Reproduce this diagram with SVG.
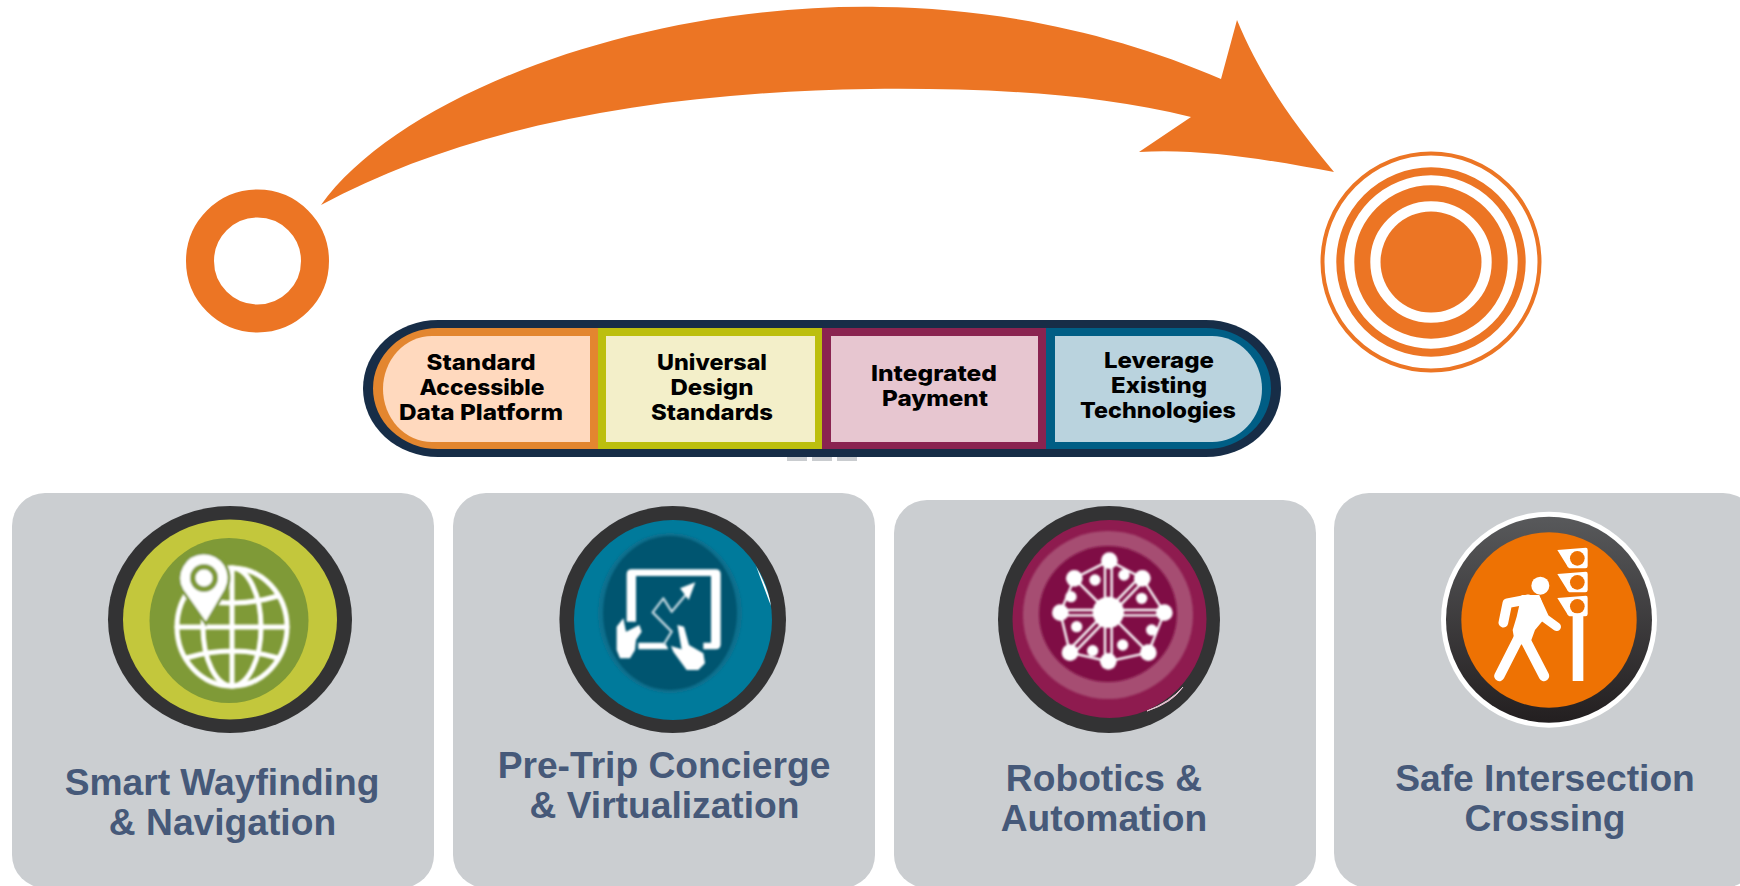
<svg xmlns="http://www.w3.org/2000/svg" width="1740" height="886" viewBox="0 0 1740 886">
<style>
.or{fill:#EC7524}
.card{fill:#CBCED1}
.lbl{font-family:"Liberation Sans",Arial,sans-serif;font-weight:700;font-size:37.200px;fill:#465979;text-anchor:middle}
.pt{font-family:Inter,"Liberation Sans",sans-serif;font-weight:800;font-size:22px;fill:#000;text-anchor:middle}
.dark{fill:#333334}
.w{fill:#fff}
.ws{fill:none;stroke:#fff;stroke-linecap:round;stroke-linejoin:round}
</style>
<defs>
<filter id="soft" x="-10%" y="-10%" width="120%" height="120%"><feGaussianBlur stdDeviation="0.8"/></filter>
<filter id="soft3" x="-10%" y="-10%" width="120%" height="120%"><feGaussianBlur stdDeviation="3"/></filter>
<linearGradient id="rim" x1="0" y1="0" x2="0" y2="1"><stop offset="0" stop-color="#58595B"/><stop offset="1" stop-color="#231F20"/></linearGradient>
<g id="tl"><path class="w" d="M412,180L498,173Q503,173 503,180V228Q503,235 496,235H452Q444,235 440,225Z"/><circle cx="472" cy="205" r="22" fill="#EE7203"/></g>
</defs>
<rect width="1740" height="886" fill="#fff"/>

<g id="connectors">
<path id="arrow" class="or" d="M321,205C400,95 640,3 880,7C1000,8 1120,35 1221,79L1237,20C1262,80 1295,125 1334,172C1270,160 1200,148 1139,152L1191,117C1090,92 980,88 870,89C660,92 470,125 321,205Z"/>
</g>

<g id="start"><circle cx="257.500" cy="261" r="57.500" fill="none" stroke="#EC7524" stroke-width="28"/></g>

<g id="target" fill="none" stroke="#EC7524">
<circle cx="1431" cy="262" r="108.500" stroke-width="4"/>
<circle cx="1431" cy="262" r="90.700" stroke-width="8"/>
<circle cx="1431" cy="262" r="68.700" stroke-width="16"/>
<circle cx="1431" cy="262" r="50.500" fill="#EC7524" stroke="none"/>
</g>

<g id="pill">
<rect x="787" y="456" width="20" height="5" fill="#C9CCCF"/><rect x="812" y="456" width="20" height="5" fill="#C9CCCF"/><rect x="837" y="456" width="20" height="5" fill="#C9CCCF"/>
<rect x="363" y="320" width="918" height="137" rx="75" ry="68.500" fill="#172D47"/>
<g id="seg1">
<path d="M598,328H438A65,60.500 0 0 0 438,449H598Z" fill="#E3862F"/>
<path d="M590,336H432A49,53 0 0 0 432,442H590Z" fill="#FFD9BE"/>
<text class="pt" x="481" y="370" textLength="109" lengthAdjust="spacingAndGlyphs">Standard</text>
<text class="pt" x="482" y="395" textLength="125" lengthAdjust="spacingAndGlyphs">Accessible</text>
<text class="pt" x="481" y="420" textLength="164" lengthAdjust="spacingAndGlyphs">Data Platform</text>
</g>
<g id="seg2">
<rect x="598" y="328" width="224" height="121" fill="#BCBF0E"/>
<rect x="606" y="336" width="209" height="106" fill="#F3EFC9"/>
<text class="pt" x="712" y="370" textLength="110" lengthAdjust="spacingAndGlyphs">Universal</text>
<text class="pt" x="712" y="395" textLength="83" lengthAdjust="spacingAndGlyphs">Design</text>
<text class="pt" x="712" y="420" textLength="122" lengthAdjust="spacingAndGlyphs">Standards</text>
</g>
<g id="seg3">
<rect x="822" y="328" width="224" height="121" fill="#8A2350"/>
<rect x="831" y="336" width="207" height="106" fill="#E7C6D0"/>
<text class="pt" x="934" y="381" textLength="126" lengthAdjust="spacingAndGlyphs">Integrated</text>
<text class="pt" x="935" y="406" textLength="106" lengthAdjust="spacingAndGlyphs">Payment</text>
</g>
<g id="seg4">
<path d="M1046,328H1206A65,60.500 0 0 1 1206,449H1046Z" fill="#005E85"/>
<path d="M1055,336H1212A50,53 0 0 1 1212,442H1055Z" fill="#BAD3DE"/>
<text class="pt" x="1159" y="368" textLength="110" lengthAdjust="spacingAndGlyphs">Leverage</text>
<text class="pt" x="1159" y="393" textLength="96" lengthAdjust="spacingAndGlyphs">Existing</text>
<text class="pt" x="1158" y="418" textLength="156" lengthAdjust="spacingAndGlyphs">Technologies</text>
</g>
</g>

<g id="card1">
<rect class="card" x="12" y="493" width="422" height="395" rx="33"/>
<ellipse class="dark" cx="230" cy="619.500" rx="122" ry="113.500"/>
<ellipse cx="230" cy="619.500" rx="107" ry="100" fill="#C3C73C"/>
<ellipse cx="229" cy="620.500" rx="79.500" ry="82.500" fill="#7F9A37"/>
<g filter="url(#soft)">
<g class="ws" stroke-width="5">
<ellipse cx="232" cy="627" rx="55" ry="59"/>
<ellipse cx="232" cy="627" rx="29" ry="59"/>
<path d="M232,568V686M177,627H287M186,596Q232,610 278,596M186,658Q232,644 278,658"/>
</g>
<path d="M203,553A25,25 0 0 1 226,590L206,624L182,590A25,25 0 0 1 203,553Z" fill="#fff" stroke="#7F9A37" stroke-width="3"/>
<circle cx="204" cy="578" r="14" fill="#7F9A37"/>
<circle cx="204" cy="578" r="8.500" fill="#fff"/>
</g>
<text class="lbl" x="222" y="795">Smart Wayfinding</text>
<text class="lbl" x="222.500" y="835">&amp; Navigation</text>
</g>

<g id="card2">
<rect class="card" x="453" y="493" width="422" height="395" rx="33"/>
<ellipse class="dark" cx="672.700" cy="619.500" rx="113.300" ry="113.500"/>
<ellipse cx="673" cy="620" rx="99" ry="100" fill="#007A9B"/>
<path d="M756,566Q769,590 771,606Q763,585 756,566Z" fill="#fff"/>
<ellipse cx="670" cy="613" rx="72" ry="80" fill="#0A6F8E" filter="url(#soft)"/>
<ellipse cx="670" cy="613" rx="67" ry="77" fill="#00556F" filter="url(#soft)"/>
<g transform="translate(540,490) scale(.33333)" filter="url(#soft3)">
<path class="w" fill-rule="evenodd" d="M275,238H527Q542,238 542,253V463Q542,478 527,478H490V458H513V258H288V395H260V253Q260,238 275,238Z"/>
<path class="w" d="M295,458H375L385,478H295Z"/>
<path class="w" d="M230,410L250,385L258,425L298,405L305,425L288,450L285,480L270,505L240,505L230,480Z"/>
<path class="w" d="M412,405L432,410L447,465L490,490L495,520L475,540L440,540L400,485L393,468L425,478Z"/>
<path class="ws" style="stroke:#C3D8E0" stroke-width="7" d="M372,462L395,425L338,367L370,325L395,365L445,305"/>
<path class="w" d="M466,277L420,295L446,330Z"/>
</g>
<text class="lbl" x="664" y="778">Pre-Trip Concierge</text>
<text class="lbl" x="664.500" y="818">&amp; Virtualization</text>
</g>

<g id="card3">
<rect class="card" x="894" y="500" width="422" height="388" rx="33"/>
<ellipse class="dark" cx="1109" cy="619.500" rx="111" ry="113.500"/>
<ellipse cx="1109.500" cy="619" rx="97" ry="99" fill="#8E1B4F"/>
<ellipse cx="1108" cy="615" rx="85" ry="84" fill="#A64D72" filter="url(#soft)"/>
<ellipse cx="1108" cy="614" rx="69" ry="68" fill="#7F0F45" filter="url(#soft)"/>
<path d="M1147,711Q1170,702 1183,687Q1172,703 1147,711Z" fill="#E6C3D2" stroke="#E6C3D2" stroke-width="1"/>
<g transform="translate(980,490) scale(.33333)" filter="url(#soft3)">
<g class="ws">
<path stroke-width="7" d="M241,368L283,265L388,212L487,265L553,368L505,488L385,514L270,488Z"/>
<path stroke-width="7" d="M375,212V514M395,212V514M241,360H553M241,376H553M277,259L511,494M289,271L499,482M493,271L277,494M481,259L265,482"/>
</g>
<circle class="w" cx="385" cy="367" r="47"/>
<g class="w">
<circle cx="388" cy="212" r="25"/><circle cx="283" cy="265" r="25"/><circle cx="487" cy="265" r="25"/><circle cx="241" cy="368" r="25"/><circle cx="553" cy="368" r="25"/><circle cx="270" cy="488" r="25"/><circle cx="505" cy="488" r="25"/><circle cx="385" cy="514" r="25"/>
<circle cx="345" cy="270" r="17"/><circle cx="432" cy="255" r="17"/><circle cx="273" cy="320" r="17"/><circle cx="485" cy="325" r="17"/><circle cx="290" cy="410" r="17"/><circle cx="515" cy="420" r="17"/><circle cx="338" cy="482" r="17"/><circle cx="428" cy="465" r="17"/>
</g>
</g>
<text class="lbl" x="1104" y="791">Robotics &amp;</text>
<text class="lbl" x="1104" y="831">Automation</text>
</g>

<g id="card4">
<rect class="card" x="1334" y="493" width="424" height="395" rx="35"/>
<circle cx="1549" cy="619.700" r="108" fill="#fff"/>
<circle cx="1549" cy="619.700" r="103" fill="url(#rim)"/>
<circle cx="1549" cy="620" r="87.700" fill="#EE7203"/>
<g transform="translate(1420,490) scale(.33333)">
<circle class="w" cx="361" cy="287" r="27"/>
<g class="ws">
<path stroke-width="29" d="M325,328L262,340L250,398"/>
<path stroke-width="26" d="M350,330L375,385L410,410"/>
<path stroke-width="31" d="M298,440L238,558M316,450L372,558"/>
</g>
<path class="w" d="M305,315L358,315L380,378L345,420L325,475L283,450L278,420L290,380Z"/>
<use href="#tl"/><use href="#tl" y="72"/><use href="#tl" y="144"/>
<rect class="w" x="458" y="370" width="32" height="203"/>
</g>
<text class="lbl" x="1545" y="791">Safe Intersection</text>
<text class="lbl" x="1545" y="831">Crossing</text>
</g>
</svg>
